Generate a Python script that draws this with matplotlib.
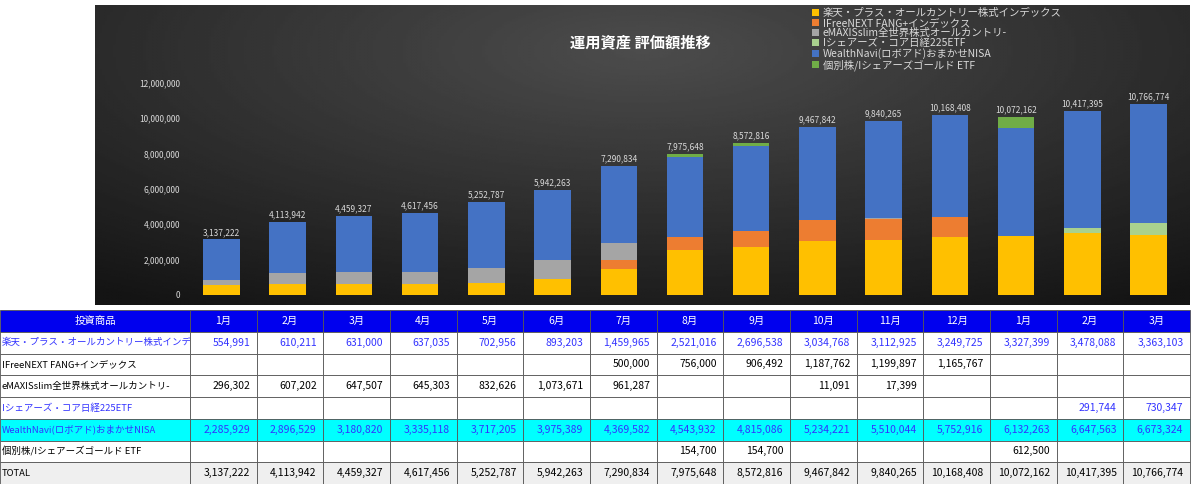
import matplotlib
matplotlib.use("Agg")
import matplotlib.pyplot as plt
import numpy as np

plt.rcParams['font.family'] = ['Noto Sans CJK JP', 'DejaVu Sans']

months = ["1月", "2月", "3月", "4月", "5月", "6月", "7月", "8月", "9月",
          "10月", "11月", "12月", "1月", "2月", "3月"]
names = ["楽天・プラス・オールカントリー株式インデックス",
         "IFreeNEXT FANG+インデックス",
         "eMAXISslim全世界株式オールカントリ-",
         "Iシェアーズ・コア日経225ETF",
         "WealthNavi(ロボアド)おまかせNISA",
         "個別株/Iシェアーズゴールド ETF"]
rakuten = [554991, 610211, 631000, 637035, 702956, 893203, 1459965, 2521016, 2696538,
           3034768, 3112925, 3249725, 3327399, 3478088, 3363103]
fang = [0, 0, 0, 0, 0, 0, 500000, 756000, 906492, 1187762, 1199897, 1165767, 0, 0, 0]
emaxis = [296302, 607202, 647507, 645303, 832626, 1073671, 961287, 0, 0, 11091, 17399, 0, 0, 0, 0]
nikkei = [0, 0, 0, 0, 0, 0, 0, 0, 0, 0, 0, 0, 0, 291744, 730347]
wnavi = [2285929, 2896529, 3180820, 3335118, 3717205, 3975389, 4369582, 4543932, 4815086,
         5234221, 5510044, 5752916, 6132263, 6647563, 6673324]
gold = [0, 0, 0, 0, 0, 0, 0, 154700, 154700, 0, 0, 0, 612500, 0, 0]
series = [rakuten, fang, emaxis, nikkei, wnavi, gold]
colors = ["#FFC000", "#ED7D31", "#A5A5A5", "#A9D18E", "#4472C4", "#70AD47"]
totals = np.sum(series, axis=0)

fig = plt.figure(figsize=(12, 4.84), dpi=100)

# dark gradient background of the chart
bg = fig.add_axes([95 / 1200, 1 - 305 / 484, 1095 / 1200, 300 / 484])
yy, xx = np.mgrid[0:1:200j, 0:1:400j]
r = np.sqrt(((xx - 0.5) * 1.2) ** 2 + ((yy - 0.15) * 1.0) ** 2)
bg.imshow(0.30 - 0.22 * np.clip(r, 0, 1), cmap="gray", vmin=0, vmax=1, aspect="auto")
bg.axis("off")

ax = fig.add_axes([185 / 1200, 1 - 295 / 484, 1000 / 1200, 223 / 484])
ax.patch.set_alpha(0)
x = np.arange(len(months))
bottom = np.zeros(len(months))
for vals, c, n in zip(series, colors, names):
    ax.bar(x, vals, 0.55, bottom=bottom, color=c, label=n)
    bottom += np.array(vals)
for xi, t in zip(x, totals):
    ax.text(xi, t + 150000, f"{t:,}", ha="center", va="bottom", color="#d9d9d9", fontsize=6)
ax.set_ylim(0, 12600000)
ax.set_xlim(-0.55, len(months) - 0.45)
ax.set_yticks(np.arange(0, 12000001, 2000000))
ax.set_yticklabels([f"{v:,}" for v in range(0, 12000001, 2000000)], color="#d9d9d9", fontsize=6)
ax.set_xticks([])
ax.tick_params(length=0)
for s in ax.spines.values():
    s.set_visible(False)
fig.text(640 / 1200, 1 - 42 / 484, "運用資産 評価額推移", color="white", fontsize=11,
         fontweight="bold", ha="center", va="center")
leg = fig.legend(loc="upper left", bbox_to_anchor=(808 / 1200, 1 - 4 / 484), frameon=False,
                 fontsize=7.5, labelcolor="#d9d9d9", handlelength=0.7, handleheight=0.7,
                 handletextpad=0.3, labelspacing=0.0, borderaxespad=0)

# table under the chart
tab_ax = fig.add_axes([0, 0, 1190 / 1200, 174 / 484])
tab_ax.axis("off")
cells = []
for vals in series:
    cells.append([f"{v:,}" if v else "" for v in vals])
cells.append([f"{t:,}" for t in totals])
row_names = names[:5] + ["個別株/Iシェアーズゴールド ETF", "TOTAL"]
rows = [[n] + c for n, c in zip(row_names, cells)]
header = ["投資商品"] + months
tbl = tab_ax.table(cellText=rows, colLabels=header, bbox=[0, 0, 1, 1], cellLoc="right")
tbl.auto_set_font_size(False)
widths = [190 / 1190] + [1000 / 1190 / 15] * 15
blue_rows = [1, 4, 5]
for (r_, c_), cell in tbl.get_celld().items():
    cell.set_width(widths[c_])
    cell.set_linewidth(0.6)
    cell.set_edgecolor("#555555")
    txt = cell.get_text()
    txt.set_fontsize(7.5)
    if c_ == 0:
        cell.set_text_props(ha="left")
        cell.PAD = 0.01
        if r_ > 0:
            txt.set_fontsize(6.8)
    if r_ == 0:
        cell.set_facecolor("#0000EE")
        txt.set_color("white")
        txt.set_ha("center")
    elif r_ in blue_rows:
        txt.set_color("#3333FF")
    if r_ == 5:
        cell.set_facecolor("#00FFFF")
    if r_ == 7:
        cell.set_facecolor("#EFEFEF")

fig.savefig("out.png", dpi=100)
